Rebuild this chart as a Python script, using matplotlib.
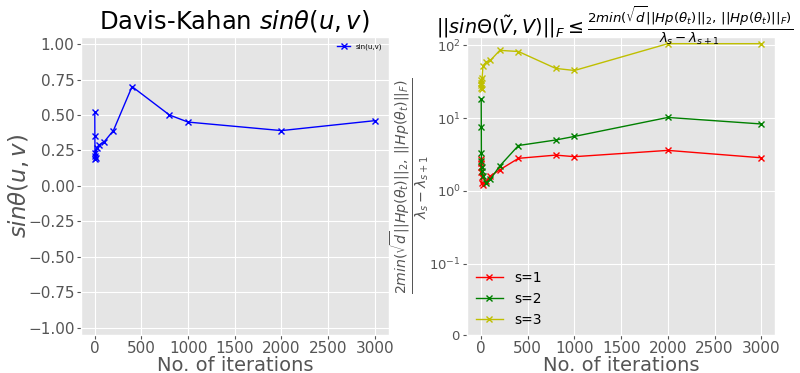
import matplotlib
matplotlib.use("Agg")
import matplotlib.pyplot as plt
from matplotlib.ticker import MultipleLocator

plt.style.use("ggplot")

iters = [1, 2, 3, 4, 5, 10, 20, 50, 100, 200, 400, 800, 1000, 2000, 3000]
sin_uv = [0.52, 0.35, 0.23, 0.21, 0.19, 0.20, 0.27, 0.29, 0.31, 0.39, 0.70, 0.50, 0.45, 0.39, 0.46]
s1 = [2.7, 2.4, 2.1, 1.8, 1.55, 1.3, 1.2, 1.35, 1.6, 1.95, 2.8, 3.1, 2.95, 3.6, 2.85]
s2 = [18, 7.5, 3.3, 2.6, 2.1, 1.85, 1.6, 1.3, 1.45, 2.2, 4.2, 5.0, 5.6, 10.2, 8.3]
s3 = [33, 30, 28, 26, 25, 35, 52, 58, 62, 85, 82, 48, 45, 105, 105]

fig = plt.figure(figsize=(8, 3.73), dpi=100)
ax1 = fig.add_axes([0.101, 0.102, 0.385, 0.799])
ax2 = fig.add_axes([0.584, 0.102, 0.385, 0.799])

ax1.plot(iters, sin_uv, color="b", marker="x", markersize=4, linewidth=1, label="sin(u,v)")
ax1.set_ylim(-1.05, 1.05)
ax1.xaxis.set_major_locator(MultipleLocator(500))
ax1.set_title(r"Davis-Kahan $sin\theta(u,v)$", fontsize=17.5)
ax1.set_xlabel("No. of iterations", fontsize=14, labelpad=-0.5)
ax1.set_ylabel(r"$sin\theta(u,v)$", fontsize=16.5, labelpad=-2)
ax1.tick_params(labelsize=11, length=3, pad=1.5)
ax1.legend(loc="upper right", fontsize=5, frameon=False)

ax2.plot(iters, s1, color="r", marker="x", markersize=4, linewidth=1, label="s=1")
ax2.plot(iters, s2, color="g", marker="x", markersize=4, linewidth=1, label="s=2")
ax2.plot(iters, s3, color="y", marker="x", markersize=4, linewidth=1, label="s=3")
ax2.set_yscale("symlog", linthresh=0.1, linscale=0.88)
ax2.set_ylim(0, 130)
ax2.xaxis.set_major_locator(MultipleLocator(500))
ax2.set_title(r"$||sin\Theta(\tilde{V},V)||_F \leq \frac{2min(\sqrt{d}||Hp(\theta_t)||_2,\, ||Hp(\theta_t)||_F)}{\lambda_s - \lambda_{s+1}}$", fontsize=13.8, x=0.48, y=1.0, pad=1.5)
ax2.set_xlabel("No. of iterations", fontsize=14, labelpad=-0.5)
ax2.set_ylabel(r"$\frac{2min(\sqrt{d}||Hp(\theta_t)||_2,\, ||Hp(\theta_t)||_F)}{\lambda_s - \lambda_{s+1}}$", fontsize=14.5, labelpad=-1)
ax2.tick_params(axis="x", labelsize=11, length=3, pad=1.5)
ax2.tick_params(axis="y", labelsize=9.5, length=3, pad=1.5)
ax2.legend(loc="lower left", fontsize=10, frameon=False, borderaxespad=0.2)

fig.savefig("out.png", dpi=100)
